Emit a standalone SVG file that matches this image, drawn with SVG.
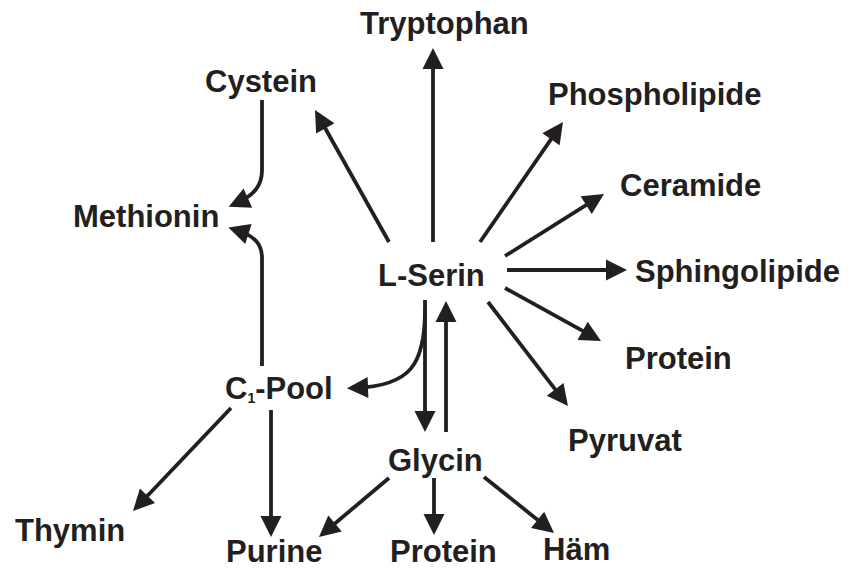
<svg xmlns="http://www.w3.org/2000/svg" width="851" height="570" viewBox="0 0 851 570">
<defs>
<style>
text{font-family:"Liberation Sans",Arial,sans-serif;font-weight:bold;font-size:31px;fill:#231f20}
.c{fill:none;stroke:#231f20;stroke-width:3.8}
</style>
<marker id="ah" markerUnits="userSpaceOnUse" markerWidth="22" markerHeight="22" refX="13" refY="10.5" orient="auto" overflow="visible">
<path d="M0,0 L21,10.5 L0,21 z" fill="#231f20"/>
</marker>
</defs>
<rect width="851" height="570" fill="#fff"/>
<g id="connectors">
<path class="c" marker-end="url(#ah)" d="M433,242 L433,56"/>
<path class="c" marker-end="url(#ah)" d="M389,242 L318.9,117"/>
<path class="c" marker-end="url(#ah)" d="M480,242 L558.4,128.6"/>
<path class="c" marker-end="url(#ah)" d="M505,256 L597.2,198.2"/>
<path class="c" marker-end="url(#ah)" d="M507,270 L619,270"/>
<path class="c" marker-end="url(#ah)" d="M505,288 L594,337.1"/>
<path class="c" marker-end="url(#ah)" d="M488,302 L563.1,399.7"/>
<path class="c" marker-end="url(#ah)" d="M425,300 L425,424"/>
<path class="c" marker-end="url(#ah)" d="M446,432 L446,309"/>
<path class="c" marker-end="url(#ah)" d="M425,310 C425,365 410,386 355,388"/>
<path class="c" marker-end="url(#ah)" d="M262,100 L262,170 C262,185 255,195 236,203.5"/>
<path class="c" marker-end="url(#ah)" d="M262,366 L262,258 C262,244 255,236 236,230"/>
<path class="c" marker-end="url(#ah)" d="M231,408 L138.5,505.2"/>
<path class="c" marker-end="url(#ah)" d="M271,410 L271,529"/>
<path class="c" marker-end="url(#ah)" d="M389,478 L325.1,531.8"/>
<path class="c" marker-end="url(#ah)" d="M434,478 L434,527"/>
<path class="c" marker-end="url(#ah)" d="M484,477 L547.8,528"/>
</g>
<g id="tryptophan"><text x="360" y="34">Tryptophan</text></g>
<g id="cystein"><text x="205" y="92">Cystein</text></g>
<g id="phospholipide"><text x="548" y="105">Phospholipide</text></g>
<g id="ceramide"><text x="620" y="196">Ceramide</text></g>
<g id="methionin"><text x="73" y="227">Methionin</text></g>
<g id="lserin"><text x="378" y="286">L-Serin</text></g>
<g id="sphingolipide"><text x="635" y="282">Sphingolipide</text></g>
<g id="protein1"><text x="625" y="369">Protein</text></g>
<g id="c1pool"><text x="225" y="399">C<tspan font-size="14" dy="4">1</tspan><tspan dy="-4">-Pool</tspan></text></g>
<g id="pyruvat"><text x="568" y="451">Pyruvat</text></g>
<g id="glycin"><text x="388" y="471">Glycin</text></g>
<g id="thymin"><text x="15" y="541">Thymin</text></g>
<g id="purine"><text x="226" y="562">Purine</text></g>
<g id="protein2"><text x="390" y="562">Protein</text></g>
<g id="haem"><text x="543" y="560">Häm</text></g>
</svg>
